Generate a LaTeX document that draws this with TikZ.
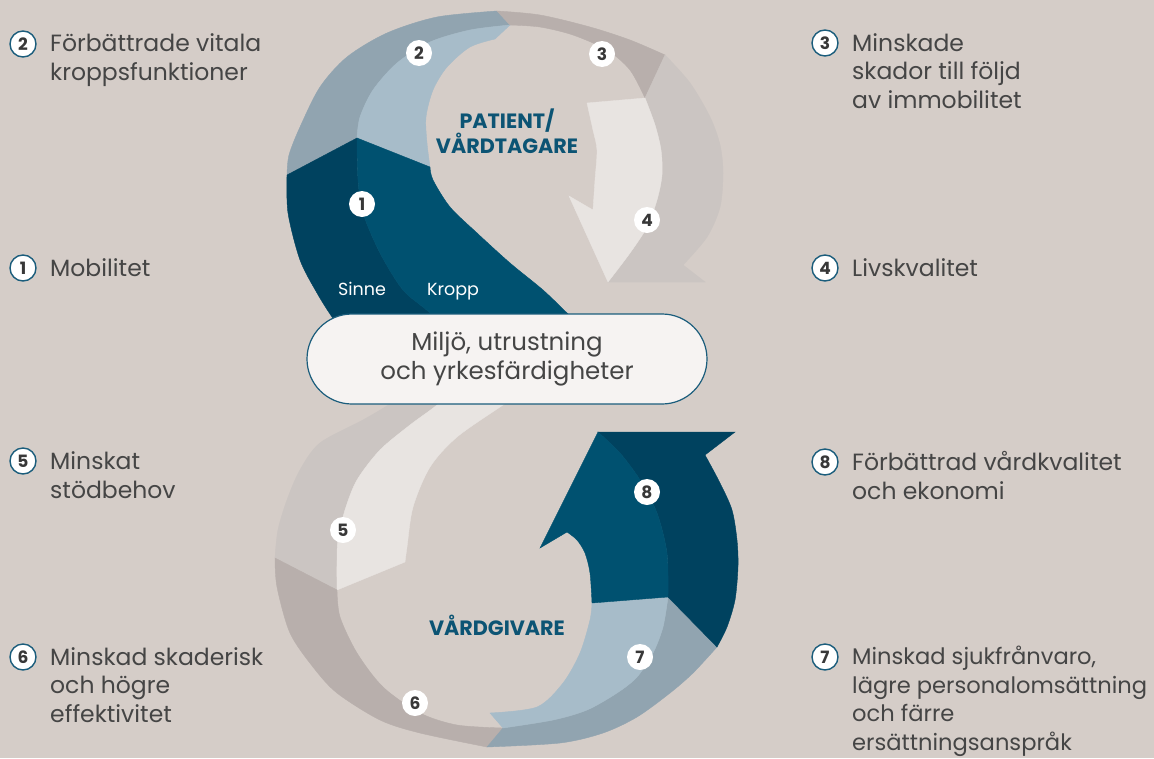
\documentclass[tikz,border=0pt]{standalone}
\usepackage{fontspec}
\setmainfont{Poppins}
\definecolor{bg}{HTML}{D5CDC8}
\definecolor{darkA}{HTML}{00425F}
\definecolor{darkB}{HTML}{005170}
\definecolor{gblue}{HTML}{91A4B0}
\definecolor{lblue}{HTML}{A7BCC9}
\definecolor{grayC}{HTML}{B8AFAC}
\definecolor{grayD}{HTML}{CBC5C2}
\definecolor{lightD}{HTML}{E8E4E1}
\definecolor{pillfill}{HTML}{F6F3F2}
\definecolor{ringblue}{HTML}{1B5D7C}
\definecolor{txtgray}{HTML}{454545}
\definecolor{numgray}{HTML}{383838}
\definecolor{titleblue}{HTML}{0C5474}
\begin{document}
\begin{tikzpicture}[x=1pt,y=-1pt,
  piece/.style={fill=#1,draw=#1,line width=0.4pt},
  numc/.style={circle,fill=white,minimum size=26pt,inner sep=0pt,
    font=\fontsize{17}{17}\selectfont\bfseries,text=numgray},
  labc/.style={numc,draw=ringblue,line width=1.4pt,minimum size=26pt},
  lab/.style={anchor=base west,align=left,inner sep=0pt,
    font=\fontsize{23.5}{28.5}\selectfont,text=txtgray},
  ttl/.style={align=center,inner sep=0pt,font=\fontsize{20.7}{24}\selectfont\bfseries,text=titleblue},
  sub/.style={anchor=base,inner sep=0pt,font=\fontsize{17.5}{17.5}\selectfont,text=white},
  pill/.style={draw=ringblue,line width=1.2pt,fill=pillfill,rounded corners=45pt,
    minimum width=400pt,minimum height=90pt,align=center,
    font=\fontsize{24.5}{29}\selectfont,text=txtgray}]
\fill[bg] (0,0) rectangle (1154,758);
\useasboundingbox (0,0) rectangle (1154,758);

% ---------- upper loop ----------
% band 2 outer
\path[piece=gblue] plot[smooth] coordinates {(287,175)(289,155)(300,127)(320,87)(347,57)(387,33)(437,17)(497,11)}
  -- (510,25) -- plot[smooth] coordinates {(510,25)(470,30)(430,42)(397,63)(373,90)(360,117)(357,138)} -- cycle;
% band 2 inner
\path[piece=lblue] plot[smooth] coordinates {(357,138)(360,117)(373,90)(397,63)(430,42)(470,30)(510,25)}
  -- (495,39) -- plot[smooth] coordinates {(495,39)(470,47)(447,67)(433,90)(426,117)(427,143)(430,167)} -- cycle;
% band 1 outer
\path[piece=darkA] (357,138) -- (287,175) -- plot[smooth] coordinates {(287,175)(288,213)(300,260)(317,293)(332,317)(352,345)}
  -- (460,345) -- plot[smooth] coordinates {(460,345)(430,313)(403,290)(380,253)(363,213)(358,180)(357,138)} -- cycle;
% band 1 inner
\path[piece=darkB] (357,138) -- (430,167) -- plot[smooth] coordinates {(430,167)(433,180)(450,207)(477,233)(510,263)(543,290)(567,313)(600,345)}
  -- (460,345) -- plot[smooth] coordinates {(460,345)(430,313)(403,290)(380,253)(363,213)(358,180)(357,138)} -- cycle;
% band 3
\path[piece=grayC] plot[smooth] coordinates {(497,11)(540,15)(590,27)(630,40)(665,55)}
  -- (645,98) -- plot[smooth] coordinates {(645,98)(630,70)(607,50)(573,35)(540,27)(510,25)} -- cycle;
% band 4 outer
\path[piece=grayD] plot[smooth] coordinates {(665,55)(690,83)(710,117)(720,145)(723,173)(720,207)(707,237)(683,265)}
  -- (705,282) -- (608,282) -- plot[smooth] coordinates {(608,282)(630,253)(647,227)(657,200)(662,175)(661,150)(655,125)(645,98)} -- cycle;
% band 4 inner arrow
\path[piece=lightD] (587,103) -- (645,98) -- plot[smooth] coordinates {(645,98)(655,125)(661,150)(662,175)(657,200)(647,227)(630,253)(608,282)}
  -- (569,196) -- (593,210) -- plot[smooth] coordinates {(593,210)(595,180)(597,150)(593,130)(587,103)} -- cycle;

% ---------- lower loop ----------
% band 5 outer
\path[piece=grayD] plot[smooth] coordinates {(425,380)(390,404)(363,420)(320,443)(300,470)(287,500)(278,530)(275,558)}
  -- (337,590) -- plot[smooth] coordinates {(337,590)(337,560)(338,540)(345,510)(357,480)(380,450)(410,425)(437,405)(465,380)} -- cycle;
% band 5 inner
\path[piece=lightD] plot[smooth] coordinates {(465,380)(437,405)(410,425)(380,450)(357,480)(345,510)(338,540)(337,560)(337,590)}
  -- (405,562) -- plot[smooth] coordinates {(405,562)(407,547)(413,507)(430,467)(457,437)(503,405)(540,380)} -- cycle;
% band 6
\path[piece=grayC] plot[smooth] coordinates {(275,558)(277,587)(290,633)(313,667)(337,693)(380,720)(420,733)(487,747)}
  -- (503,728) -- plot[smooth] coordinates {(503,728)(457,725)(420,713)(383,687)(357,653)(340,617)(337,590)} -- cycle;
% band 7 outer
\path[piece=gblue] plot[smooth] coordinates {(487,747)(560,743)(603,733)(637,717)(670,693)(693,673)(717,647)}
  -- (668,597) -- plot[smooth] coordinates {(668,597)(663,627)(653,653)(637,677)(617,693)(587,710)(553,720)(503,728)} -- cycle;
% band 7 inner
\path[piece=lblue] (490,713) -- (503,728) -- plot[smooth] coordinates {(503,728)(553,720)(587,710)(617,693)(637,677)(653,653)(663,627)(668,597)}
  -- (592,603) -- plot[smooth] coordinates {(592,603)(590,620)(580,653)(563,683)(537,707)(490,713)} -- cycle;
% band 8 outer
\path[piece=darkA] (598,432) -- (735,432) -- (705,455) -- plot[smooth] coordinates {(705,455)(720,483)(732,510)(737,540)(738,567)(735,600)(727,627)(717,647)}
  -- (668,597) -- plot[smooth] coordinates {(668,597)(667,553)(657,513)(640,480)(620,453)(598,432)} -- cycle;
% band 8 inner
\path[piece=darkB] (598,432) -- plot[smooth] coordinates {(598,432)(620,453)(640,480)(657,513)(667,553)(668,597)}
  -- (592,603) -- plot[smooth] coordinates {(592,603)(590,573)(585,553)(577,540)(567,532)} -- (540,548) -- cycle;

% ---------- centre pill ----------
\node[pill] (env) at (507,359) {Miljö, utrustning\\och yrkesfärdigheter};

% ---------- titles ----------
\node[ttl] (pat) at (507,131) {PATIENT/\\VÅRDTAGARE};
\node[ttl] (giv) at (497,625) {VÅRDGIVARE};
\node[sub] (sinne) at (362,295) {Sinne};
\node[sub] (kropp) at (453,295) {Kropp};

% ---------- numbers on the figure ----------
\node[numc] (n1) at (362,204) {1};
\node[numc] (n2) at (419,53) {2};
\node[numc] (n3) at (602,54) {3};
\node[numc] (n4) at (647,220) {4};
\node[numc] (n5) at (343,530) {5};
\node[numc] (n6) at (415,703) {6};
\node[numc] (n7) at (640,657) {7};
\node[numc] (n8) at (647,492) {8};

% ---------- side labels (anchor = baseline of last line) ----------
\node[labc] (c2) at (23,44) {2};
\node[lab] (t2) at (50,80) {Förbättrade vitala\\kroppsfunktioner};
\node[labc] (c1) at (23,268) {1};
\node[lab] (t1) at (50,276) {Mobilitet};
\node[labc] (c5) at (23,461) {5};
\node[lab] (t5) at (50,498) {Minskat\\stödbehov};
\node[labc] (c6) at (23,657) {6};
\node[lab] (t6) at (50,722) {Minskad skaderisk\\och högre\\effektivitet};
\node[labc] (c3) at (825,43) {3};
\node[lab] (t3) at (852,108) {Minskade\\skador till följd\\av immobilitet};
\node[labc] (c4) at (825,268) {4};
\node[lab] (t4) at (852,276) {Livskvalitet};
\node[labc] (c8) at (825,462) {8};
\node[lab] (t8) at (852,499) {Förbättrad vårdkvalitet\\och ekonomi};
\node[labc] (c7) at (825,657) {7};
\node[lab,font=\fontsize{22.6}{28.5}\selectfont] (t7) at (852,750) {Minskad sjukfrånvaro,\\lägre personalomsättning\\och färre\\ersättningsanspråk};
\end{tikzpicture}
\end{document}
